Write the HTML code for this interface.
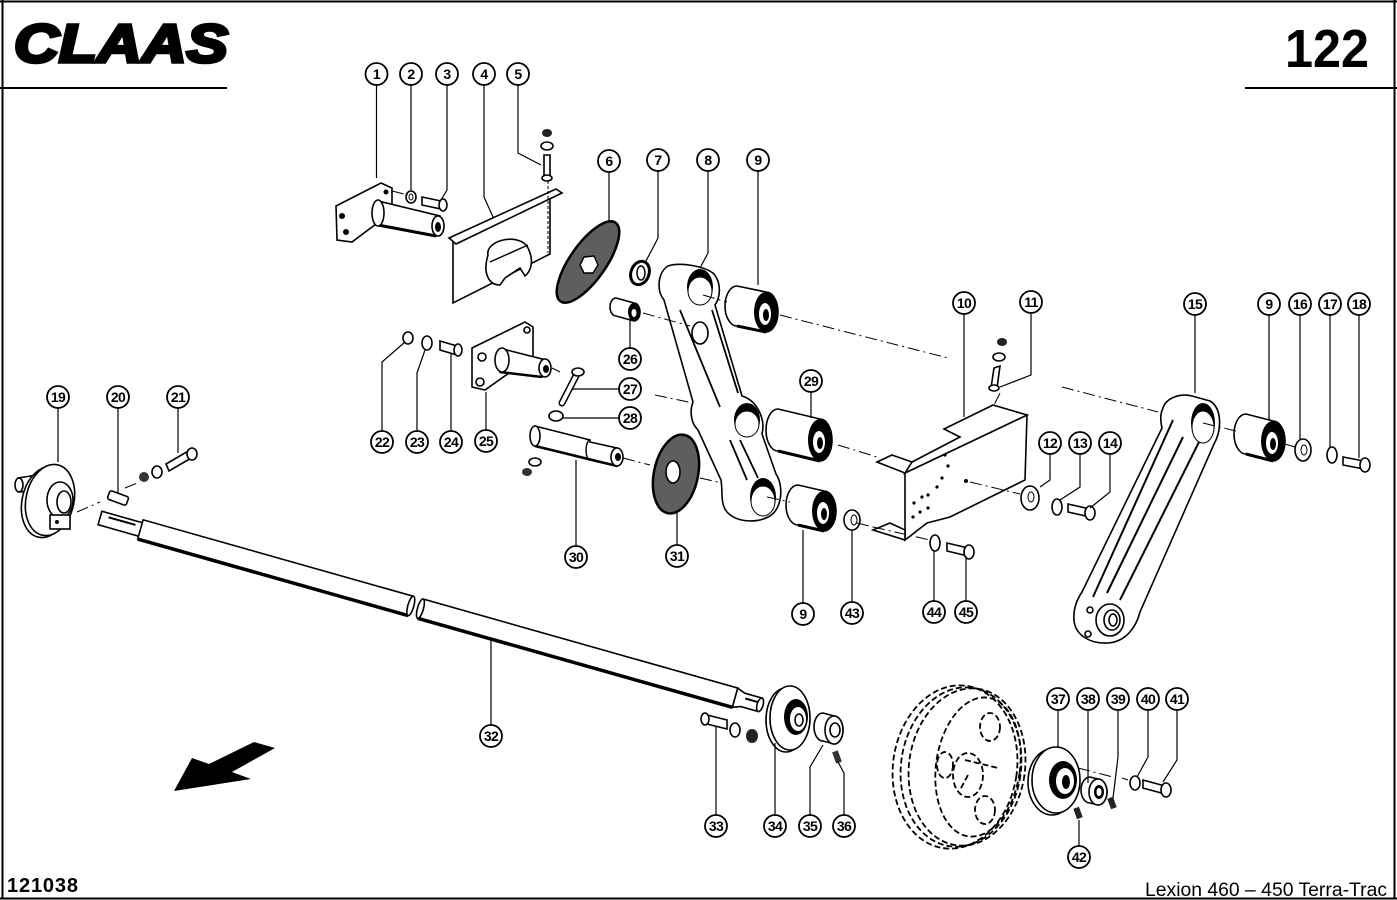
<!DOCTYPE html>
<html><head><meta charset="utf-8"><style>
html,body{margin:0;padding:0;background:#fff;}
svg{display:block}
.o{fill:#fff;stroke:#000;stroke-width:1.6}
.l{fill:none;stroke:#000;stroke-width:1.2}
.d{fill:none;stroke:#000;stroke-width:1;stroke-dasharray:12 4 2 4}
.w{fill:none;stroke:#000;stroke-width:1.8;stroke-dasharray:6 3}
.c circle{fill:#fff;stroke:#000;stroke-width:1.8}
.c text{font-family:"Liberation Sans",sans-serif;font-weight:bold;font-size:14px;text-anchor:middle;letter-spacing:-0.6px}
</style></head><body>
<svg width="1397" height="900" viewBox="0 0 1397 900" xmlns="http://www.w3.org/2000/svg">
<g stroke="#000" fill="none" stroke-width="2">
<line x1="0" y1="1.5" x2="1397" y2="1.5"/>
<line x1="2.5" y1="0" x2="2.5" y2="899"/>
<line x1="1394.5" y1="0" x2="1394.5" y2="899"/>
<line x1="0" y1="898.5" x2="1397" y2="898.5"/>
<line x1="0" y1="88" x2="227" y2="88"/>
<line x1="1245" y1="88" x2="1397" y2="88"/>
</g>
<text x="14" y="62" font-family="Liberation Sans, sans-serif" font-weight="bold" font-style="italic" font-size="54" textLength="214" lengthAdjust="spacingAndGlyphs" stroke="#000" stroke-width="3.5">CLAAS</text>
<text x="1285" y="67" font-family="Liberation Sans, sans-serif" font-weight="bold" font-size="54" textLength="84" lengthAdjust="spacingAndGlyphs">122</text>
<text x="7" y="892" font-family="Liberation Sans, sans-serif" font-weight="bold" font-size="20" textLength="71" lengthAdjust="spacing">121038</text>
<text x="1145" y="896" font-family="Liberation Sans, sans-serif" font-size="19" textLength="242" lengthAdjust="spacingAndGlyphs">Lexion 460 – 450 Terra-Trac</text>

<polygon points="174,791 192,758 209,764 254,742 275,748 232,772 251,779" fill="#000"/>

<g transform="translate(100,518) rotate(15.8)">
<rect class="o" x="0" y="-7" width="44" height="14"/>
<line x1="8" y1="-3" x2="36" y2="-3" stroke="#000" stroke-width="2"/>
<path class="o" d="M42,-10 L323,-10 L323,10 L42,10 Z"/>
<line x1="42" y1="10" x2="323" y2="10" stroke="#000" stroke-width="3.5"/>
<ellipse class="o" cx="323" cy="0" rx="3" ry="10"/>
<path class="o" d="M333,-10 L660,-10 L660,10 L333,10 Z"/>
<line x1="333" y1="10" x2="660" y2="10" stroke="#000" stroke-width="3.5"/>
<ellipse class="o" cx="333" cy="0" rx="3" ry="10"/>
<path class="o" d="M660,-10 L668,-7 L686,-7 L686,7 L668,7 L660,10 Z"/>
<line x1="670" y1="-2" x2="684" y2="-2" stroke="#000" stroke-width="2"/>
<ellipse class="o" cx="686" cy="0" rx="3" ry="7"/>
</g>

<polygon class="o" points="336,206 381,183 392,188 392,212 352,242 337,240"/>
<circle cx="342" cy="216" r="3" fill="#000"/><circle cx="346" cy="232" r="3" fill="#000"/><circle cx="386" cy="192" r="2.5" fill="#000"/>
<path class="o" d="M378,201 L440,216 L436,236 L378,225 Z"/>
<line x1="378" y1="225" x2="436" y2="236" stroke="#000" stroke-width="3"/>
<ellipse class="o" cx="378" cy="213" rx="6" ry="13" stroke-width="2"/>
<ellipse class="o" cx="438" cy="226" rx="6" ry="10"/>
<ellipse cx="438" cy="227" rx="3" ry="5" fill="#000"/>
<ellipse class="o" cx="411" cy="197" rx="5" ry="6" stroke-width="2"/><ellipse cx="411" cy="197" rx="2" ry="3" fill="none" stroke="#000"/>
<polygon class="o" points="422,197 441,201 441,209 422,205"/>
<ellipse class="o" cx="443" cy="205" rx="4" ry="6"/>
<polygon class="o" points="453,241 550,196 550,254 453,303"/>
<polygon class="o" points="449,238 556,189 562,193 456,244"/>
<path class="o" d="M488,255 C485,240 520,232 528,248 C535,262 530,272 525,276 L520,268 L505,278 L500,285 C490,285 482,275 488,255 Z"/>
<line x1="490" y1="262" x2="528" y2="245" stroke="#000" stroke-width="1.4"/>
<ellipse cx="547" cy="133" rx="5" ry="4" fill="#222"/>
<ellipse class="o" cx="547" cy="146" rx="6" ry="4" stroke-width="2"/>
<polygon class="o" points="544,155 550,155 550,176 544,176"/>
<ellipse class="o" cx="547" cy="178" rx="5" ry="3"/>
<line x1="548" y1="181" x2="548" y2="253" stroke="#000" stroke-width="1" stroke-dasharray="3 2"/>
<ellipse cx="588" cy="262" rx="48" ry="18" transform="rotate(-55 588 262)" fill="#5e5e5e" stroke="#000" stroke-width="2.5"/>
<polygon points="584,257 594,256 598,265 593,273 584,273 580,265" fill="#fff" stroke="#000" stroke-width="1.4"/>
<ellipse cx="640" cy="273" rx="9" ry="12" transform="rotate(20 640 273)" fill="#fff" stroke="#000" stroke-width="3"/>
<ellipse cx="641" cy="273" rx="4" ry="7" fill="none" stroke="#000" stroke-width="1.5"/>
<path class="o" d="M616,298 L634,303 A6,9 0 0 1 634,321 L616,316 A6,9 0 0 1 616,298 Z"/>
<ellipse cx="634" cy="312" rx="6" ry="9" fill="#000"/><ellipse cx="634" cy="313" rx="2.5" ry="4" fill="#fff"/>
<path class="o" stroke-width="2" d="M668,266 C680,262 705,266 714,274 C722,284 720,298 715,305 L742,396 C756,400 766,418 762,434 L776,474 C784,486 782,508 770,516 C756,524 736,522 727,512 C720,504 723,492 721,480 L698,430 C690,422 690,410 693,402 L664,300 C656,290 658,272 668,266 Z"/>
<line x1="680" y1="310" x2="720" y2="407" stroke="#000" stroke-width="1.8"/>
<line x1="712" y1="310" x2="738" y2="393" stroke="#000" stroke-width="1.8"/>
<line x1="730" y1="440" x2="747" y2="480" stroke="#000" stroke-width="1.8"/>
<line x1="740" y1="440" x2="758" y2="478" stroke="#000" stroke-width="1.8"/>
<ellipse class="o" cx="700" cy="333" rx="8" ry="11" stroke-width="2"/>
<ellipse cx="700" cy="287" rx="13" ry="18" fill="#000"/><ellipse cx="700" cy="291" rx="12" ry="14" fill="#fff" stroke="#000"/>
<ellipse cx="747" cy="420" rx="13" ry="17" fill="#000"/><ellipse cx="747" cy="424" rx="12" ry="13" fill="#fff" stroke="#000"/>
<ellipse cx="763" cy="497" rx="13" ry="19" fill="#000"/><ellipse cx="763" cy="501" rx="12" ry="15" fill="#fff" stroke="#000"/>
<path class="o" d="M737,286 L766,292 A12,20 0 0 1 766,332 L737,326 A12,20 0 0 1 737,286 Z"/>
<line x1="737" y1="326" x2="766" y2="332" stroke="#000" stroke-width="3"/>
<ellipse cx="766" cy="312" rx="12" ry="20" fill="#000"/><ellipse cx="765" cy="314" rx="6" ry="11" fill="#fff"/><ellipse cx="766" cy="315" rx="3" ry="6" fill="#000"/>
<path class="o" d="M778,409 L820,419 A12,21 0 0 1 820,461 L778,451 A12,21 0 0 1 778,409 Z"/>
<line x1="778" y1="451" x2="820" y2="461" stroke="#000" stroke-width="3"/>
<ellipse cx="820" cy="440" rx="12" ry="21" fill="#000"/><ellipse cx="819" cy="442" rx="6" ry="11" fill="#fff"/><ellipse cx="820" cy="443" rx="3" ry="6" fill="#000"/>
<path class="o" d="M798,485 L824,491 A12,20 0 0 1 824,531 L798,525 A12,20 0 0 1 798,485 Z"/>
<line x1="798" y1="525" x2="824" y2="531" stroke="#000" stroke-width="3"/>
<ellipse cx="824" cy="511" rx="12" ry="20" fill="#000"/><ellipse cx="823" cy="513" rx="6" ry="11" fill="#fff"/><ellipse cx="824" cy="514" rx="3" ry="6" fill="#000"/>
<path class="o" d="M1246,414 L1273,421 A12,20 0 0 1 1273,461 L1246,454 A12,20 0 0 1 1246,414 Z"/>
<line x1="1246" y1="454" x2="1273" y2="461" stroke="#000" stroke-width="3"/>
<ellipse cx="1273" cy="441" rx="12" ry="20" fill="#000"/><ellipse cx="1272" cy="443" rx="6" ry="11" fill="#fff"/><ellipse cx="1273" cy="444" rx="3" ry="6" fill="#000"/>
<ellipse class="o" cx="852" cy="520" rx="8" ry="10" stroke-width="2.5"/><ellipse cx="854" cy="520" rx="3" ry="5" fill="none" stroke="#000"/>
<ellipse cx="676" cy="474" rx="22" ry="40" transform="rotate(12 676 474)" fill="#5e5e5e" stroke="#000" stroke-width="2.5"/>
<ellipse class="o" cx="673" cy="472" rx="7" ry="11"/>
<path class="o" d="M535,426 L590,440 L590,442 L617,448 L617,466 L590,460 L535,446 Z"/>
<line x1="535" y1="446" x2="617" y2="466" stroke="#000" stroke-width="2.5"/>
<path d="M590,440 A4,10 0 0 0 590,460" fill="none" stroke="#000" stroke-width="1.4"/>
<ellipse class="o" cx="535" cy="436" rx="5" ry="10"/>
<ellipse class="o" cx="617" cy="457" rx="6" ry="9"/><ellipse cx="618" cy="457" rx="3" ry="4" fill="#000"/>
<ellipse class="o" cx="535" cy="462" rx="6" ry="4" stroke-width="2"/>
<ellipse cx="527" cy="472" rx="5" ry="4" fill="#333"/>
<line x1="578" y1="372" x2="562" y2="403" stroke="#000" stroke-width="7" stroke-linecap="round"/>
<line x1="578" y1="372" x2="562" y2="403" stroke="#fff" stroke-width="4" stroke-linecap="round"/>
<ellipse class="o" cx="578" cy="372" rx="6" ry="4"/>
<ellipse class="o" cx="556" cy="416" rx="7" ry="5" stroke-width="2"/>
<polygon class="o" points="472,348 525,322 533,327 533,356 485,390 472,387"/>
<circle class="o" cx="482" cy="357" r="4" stroke-width="2"/><circle class="o" cx="480" cy="382" r="4" stroke-width="2"/><circle class="o" cx="527" cy="330" r="3" stroke-width="2"/>
<path class="o" d="M503,349 L546,360 L542,377 L500,372 Z"/>
<line x1="500" y1="372" x2="542" y2="377" stroke="#000" stroke-width="2.5"/>
<ellipse class="o" cx="502" cy="360" rx="7" ry="12" stroke-width="2"/>
<ellipse class="o" cx="545" cy="368" rx="6" ry="9"/><ellipse cx="546" cy="369" rx="3" ry="4" fill="#000"/>
<ellipse class="o" cx="408" cy="338" rx="5" ry="6" stroke-width="2"/>
<ellipse class="o" cx="427" cy="343" rx="5" ry="7" stroke-width="2"/>
<polygon class="o" points="440,341 457,346 457,355 440,350"/>
<ellipse class="o" cx="458" cy="350" rx="4" ry="6"/>
<polygon class="o" points="905,473 1027,415 1025,480 950,517 927,523 905,540"/>
<polygon class="o" points="905,473 912,462 960,437 944,429 993,405 1027,415"/>
<polygon class="o" points="877,462 892,455 912,462 905,473"/>
<polygon class="o" points="873,530 890,523 905,530 905,540"/>
<g fill="#000"><circle cx="945" cy="455" r="1.6"/><circle cx="948" cy="466" r="1.6"/><circle cx="942" cy="478" r="1.6"/><circle cx="937" cy="487" r="1.6"/><circle cx="922" cy="497" r="1.6"/><circle cx="914" cy="503" r="1.6"/><circle cx="928" cy="495" r="1.6"/><circle cx="913" cy="517" r="1.6"/><circle cx="920" cy="512" r="1.6"/><circle cx="928" cy="508" r="1.6"/><circle cx="966" cy="481" r="2"/></g>
<ellipse cx="1002" cy="342" rx="5" ry="4" fill="#222"/>
<ellipse class="o" cx="999" cy="357" rx="6" ry="4" stroke-width="2"/>
<polygon class="o" points="994,368 1000,366 997,388 991,388"/>
<ellipse class="o" cx="994" cy="388" rx="5" ry="3"/>
<ellipse class="o" cx="1030" cy="498" rx="9" ry="12" stroke-width="3"/><ellipse cx="1031" cy="497" rx="3" ry="5" fill="none" stroke="#000"/>
<ellipse class="o" cx="1057" cy="507" rx="5" ry="8" stroke-width="2"/>
<polygon class="o" points="1068,504 1090,509 1090,517 1068,512"/>
<ellipse class="o" cx="1090" cy="513" rx="5" ry="7"/>
<ellipse class="o" cx="935" cy="543" rx="5" ry="8" stroke-width="2"/>
<polygon class="o" points="947,543 968,548 968,556 947,551"/>
<ellipse class="o" cx="969" cy="552" rx="5" ry="7"/>
<path class="o" stroke-width="2.2" d="M1163,408 C1166,398 1180,393 1192,396 L1210,401 C1222,408 1222,430 1214,444 L1140,612 C1136,628 1125,642 1108,643 C1090,644 1075,635 1074,620 C1073,608 1078,598 1082,592 L1162,428 C1160,420 1160,414 1163,408 Z"/>
<line x1="1173" y1="420" x2="1093" y2="597" stroke="#000" stroke-width="2"/>
<line x1="1183" y1="437" x2="1107" y2="593" stroke="#000" stroke-width="2"/>
<line x1="1200" y1="440" x2="1120" y2="600" stroke="#000" stroke-width="2"/>
<ellipse cx="1203" cy="423" rx="12" ry="20" fill="#000"/><ellipse cx="1203" cy="427" rx="11" ry="16" fill="#fff" stroke="#000"/>
<ellipse class="o" cx="1110" cy="620" rx="14" ry="16" stroke-width="2.5"/>
<ellipse class="o" cx="1112" cy="620" rx="8" ry="10" stroke-width="2"/>
<ellipse class="o" cx="1113" cy="620" rx="4" ry="6"/>
<circle class="o" cx="1090" cy="610" r="3"/><circle class="o" cx="1088" cy="634" r="3"/>
<ellipse class="o" cx="1303" cy="450" rx="8" ry="11" stroke-width="3"/><ellipse cx="1304" cy="450" rx="3" ry="5" fill="none" stroke="#000"/>
<ellipse class="o" cx="1332" cy="455" rx="5" ry="8" stroke-width="2"/>
<polygon class="o" points="1343,457 1364,461 1364,469 1343,465"/>
<ellipse class="o" cx="1365" cy="465" rx="5" ry="7"/>
<path class="o" d="M18,478 L37,475 L40,490 L20,492 Z"/>
<ellipse class="o" cx="19" cy="485" rx="4" ry="7"/>
<ellipse class="o" cx="46" cy="502" rx="24" ry="36" transform="rotate(12 46 502)" stroke-width="2.5"/>
<ellipse class="o" cx="50" cy="500" rx="24" ry="36" transform="rotate(12 50 500)" stroke-width="2"/>
<ellipse class="o" cx="60" cy="500" rx="13" ry="18" stroke-width="2"/>
<ellipse class="o" cx="64" cy="502" rx="7" ry="11" stroke-width="2"/>
<rect class="o" x="50" y="515" width="20" height="14"/><circle cx="57" cy="522" r="2" fill="#000"/>
<rect class="o" x="-10" y="-4.5" width="20" height="9" rx="2" transform="translate(118,498) rotate(20)" stroke-width="2"/>
<polygon class="o" points="166,464 190,450 193,457 169,471"/>
<ellipse class="o" cx="192" cy="454" rx="5" ry="6"/>
<ellipse class="o" cx="157" cy="472" rx="5" ry="6" stroke-width="2"/>
<ellipse cx="144" cy="477" rx="5" ry="5" fill="#333"/>
<polygon class="o" points="703,714 727,720 727,729 703,723"/>
<ellipse class="o" cx="705" cy="719" rx="4" ry="6"/>
<ellipse class="o" cx="735" cy="730" rx="5" ry="7" stroke-width="2"/>
<ellipse cx="752" cy="736" rx="6" ry="7" fill="#222"/>
<ellipse class="o" cx="786" cy="720" rx="20" ry="32" stroke-width="2"/>
<ellipse class="o" cx="790" cy="718" rx="20" ry="32" stroke-width="2"/>
<ellipse cx="796" cy="717" rx="12" ry="18" fill="#000"/><ellipse cx="798" cy="719" rx="8" ry="12" fill="#fff"/><ellipse class="o" cx="799" cy="720" rx="4" ry="6"/>
<path class="o" d="M823,713 L834,716 A9,14 0 0 1 834,744 L823,741 A9,14 0 0 1 823,713 Z"/>
<ellipse class="o" cx="834" cy="730" rx="9" ry="14" stroke-width="2"/><ellipse class="o" cx="835" cy="730" rx="5" ry="7"/>
<rect x="-3" y="-6" width="6" height="12" fill="#333" transform="translate(837,757) rotate(-20)"/>
<ellipse class="w" cx="955" cy="767" rx="62" ry="82" transform="rotate(8 955 767)"/>
<ellipse class="w" cx="961" cy="767" rx="60" ry="80" transform="rotate(8 961 767)"/>
<ellipse class="w" cx="967" cy="767" rx="58" ry="79" transform="rotate(8 967 767)"/>
<ellipse class="w" cx="978" cy="767" rx="42" ry="70" transform="rotate(8 978 767)"/>
<ellipse class="w" cx="968" cy="775" rx="15" ry="22"/>
<ellipse class="w" cx="990" cy="727" rx="10" ry="14"/>
<ellipse class="w" cx="985" cy="810" rx="10" ry="14"/>
<ellipse class="w" cx="945" cy="765" rx="8" ry="13"/>
<path class="w" d="M965,760 L998,768 M968,775 L960,790"/>
<ellipse class="o" cx="1052" cy="782" rx="24" ry="33" stroke-width="2"/>
<ellipse class="o" cx="1056" cy="780" rx="24" ry="33" stroke-width="2"/>
<ellipse cx="1063" cy="780" rx="14" ry="19" fill="#000"/><ellipse cx="1065" cy="781" rx="9" ry="13" fill="#fff"/><ellipse cx="1066" cy="782" rx="4" ry="7" fill="#000"/>
<path class="o" d="M1090,777 L1098,779 A9,13 0 0 1 1098,805 L1090,803 A9,13 0 0 1 1090,777 Z"/>
<ellipse class="o" cx="1098" cy="792" rx="9" ry="13" stroke-width="2"/><ellipse cx="1099" cy="792" rx="5" ry="7" fill="#000"/><ellipse cx="1099" cy="792" rx="2.5" ry="4" fill="#fff"/>
<rect x="-3" y="-5.5" width="6" height="11" fill="#222" transform="translate(1112,803) rotate(-20)"/>
<ellipse class="o" cx="1135" cy="783" rx="5" ry="7" stroke-width="2"/>
<polygon class="o" points="1143,780 1165,786 1165,794 1143,788"/>
<ellipse class="o" cx="1166" cy="790" rx="5" ry="7"/>
<rect x="-3" y="-5.5" width="6" height="11" fill="#222" transform="translate(1078,813) rotate(-20)"/>

<path class="d" d="M392,191 L408,195 M643,313 L690,326 M703,295 L727,302 M780,315 L948,358 M1062,387 L1158,412 M1203,423 L1240,432 M1285,444 L1295,447 M655,395 L693,403 M767,497 L790,502 M838,445 L877,457 M857,523 L877,528 M700,478 L722,483 M970,482 L1020,494 M873,527 L930,540 M77,512 L100,502 M125,488 L140,482 M552,368 L560,372 M623,458 L650,465 M1078,768 L1113,777 M1122,778 L1128,780 M1000,393 L994,405"/>

<path class="l" d="M376.5,85 V178 M411,85 V190 M447,85 V190 L441,200 M484,85 V197 L493,217 M518,85 V153 L541,165 M609,172 V222 M658,171 V238 L645,263 M708,171 V253 L700,268 M758,171 V285 M964,314 V417 M1031,313 V375 L1000,387 M1050,454 V480 L1040,487 M1080,454 V487 L1060,500 M1110,454 V492 L1090,508 M1195,315 V393 M1269,315 V420 M1300,315 V439 M1330,315 V447 M1359,315 V458 M58,408 V462 M118,408 V493 M178,408 V453 M382,431 V362 L405,342 M417,431 V373 L425,350 M451,431 V353 M486,430 V392 M630,348 V318 M619,389 H572 M619,418 H562 M811,392 V418 M576,546 V460 M677,545 V512 M803,603 V530 M852,602 V530 M934,601 V551 M966,601 V556 M491,725 V639 M716,815 V727 M775,815 V743 M810,815 V767 L823,745 M844,815 V773 L838,762 M1058,688 V748 M1088,688 V783 M1118,688 V757 L1113,798 M1148,688 V757 L1137,777 M1177,688 V760 L1163,782 M1079,846 V820"/>

<g class="c">
<circle cx="376.5" cy="74" r="11"/><text x="376.5" y="79">1</text>
<circle cx="411" cy="74" r="11"/><text x="411" y="79">2</text>
<circle cx="447" cy="74" r="11"/><text x="447" y="79">3</text>
<circle cx="484" cy="74" r="11"/><text x="484" y="79">4</text>
<circle cx="518" cy="74" r="11"/><text x="518" y="79">5</text>
<circle cx="609" cy="161" r="11"/><text x="609" y="166">6</text>
<circle cx="658" cy="160" r="11"/><text x="658" y="165">7</text>
<circle cx="708" cy="160" r="11"/><text x="708" y="165">8</text>
<circle cx="758" cy="160" r="11"/><text x="758" y="165">9</text>
<circle cx="964" cy="303" r="11"/><text x="964" y="308">10</text>
<circle cx="1031" cy="302" r="11"/><text x="1031" y="307">11</text>
<circle cx="1195" cy="304" r="11"/><text x="1195" y="309">15</text>
<circle cx="1269" cy="304" r="11"/><text x="1269" y="309">9</text>
<circle cx="1300" cy="304" r="11"/><text x="1300" y="309">16</text>
<circle cx="1330" cy="304" r="11"/><text x="1330" y="309">17</text>
<circle cx="1359" cy="304" r="11"/><text x="1359" y="309">18</text>
<circle cx="630" cy="359" r="11"/><text x="630" y="364">26</text>
<circle cx="630" cy="389" r="11"/><text x="630" y="394">27</text>
<circle cx="630" cy="418" r="11"/><text x="630" y="423">28</text>
<circle cx="811" cy="381" r="11"/><text x="811" y="386">29</text>
<circle cx="58" cy="397" r="11"/><text x="58" y="402">19</text>
<circle cx="118" cy="397" r="11"/><text x="118" y="402">20</text>
<circle cx="178" cy="397" r="11"/><text x="178" y="402">21</text>
<circle cx="382" cy="442" r="11"/><text x="382" y="447">22</text>
<circle cx="417" cy="442" r="11"/><text x="417" y="447">23</text>
<circle cx="451" cy="442" r="11"/><text x="451" y="447">24</text>
<circle cx="486" cy="441" r="11"/><text x="486" y="446">25</text>
<circle cx="1050" cy="443" r="11"/><text x="1050" y="448">12</text>
<circle cx="1080" cy="443" r="11"/><text x="1080" y="448">13</text>
<circle cx="1110" cy="443" r="11"/><text x="1110" y="448">14</text>
<circle cx="576" cy="557" r="11"/><text x="576" y="562">30</text>
<circle cx="677" cy="556" r="11"/><text x="677" y="561">31</text>
<circle cx="803" cy="614" r="11"/><text x="803" y="619">9</text>
<circle cx="852" cy="613" r="11"/><text x="852" y="618">43</text>
<circle cx="934" cy="612" r="11"/><text x="934" y="617">44</text>
<circle cx="966" cy="612" r="11"/><text x="966" y="617">45</text>
<circle cx="491" cy="736" r="11"/><text x="491" y="741">32</text>
<circle cx="716" cy="826" r="11"/><text x="716" y="831">33</text>
<circle cx="775" cy="826" r="11"/><text x="775" y="831">34</text>
<circle cx="810" cy="826" r="11"/><text x="810" y="831">35</text>
<circle cx="844" cy="826" r="11"/><text x="844" y="831">36</text>
<circle cx="1058" cy="699" r="11"/><text x="1058" y="704">37</text>
<circle cx="1088" cy="699" r="11"/><text x="1088" y="704">38</text>
<circle cx="1118" cy="699" r="11"/><text x="1118" y="704">39</text>
<circle cx="1148" cy="699" r="11"/><text x="1148" y="704">40</text>
<circle cx="1177" cy="699" r="11"/><text x="1177" y="704">41</text>
<circle cx="1079" cy="857" r="11"/><text x="1079" y="862">42</text>
</g>
</svg>
</body></html>
